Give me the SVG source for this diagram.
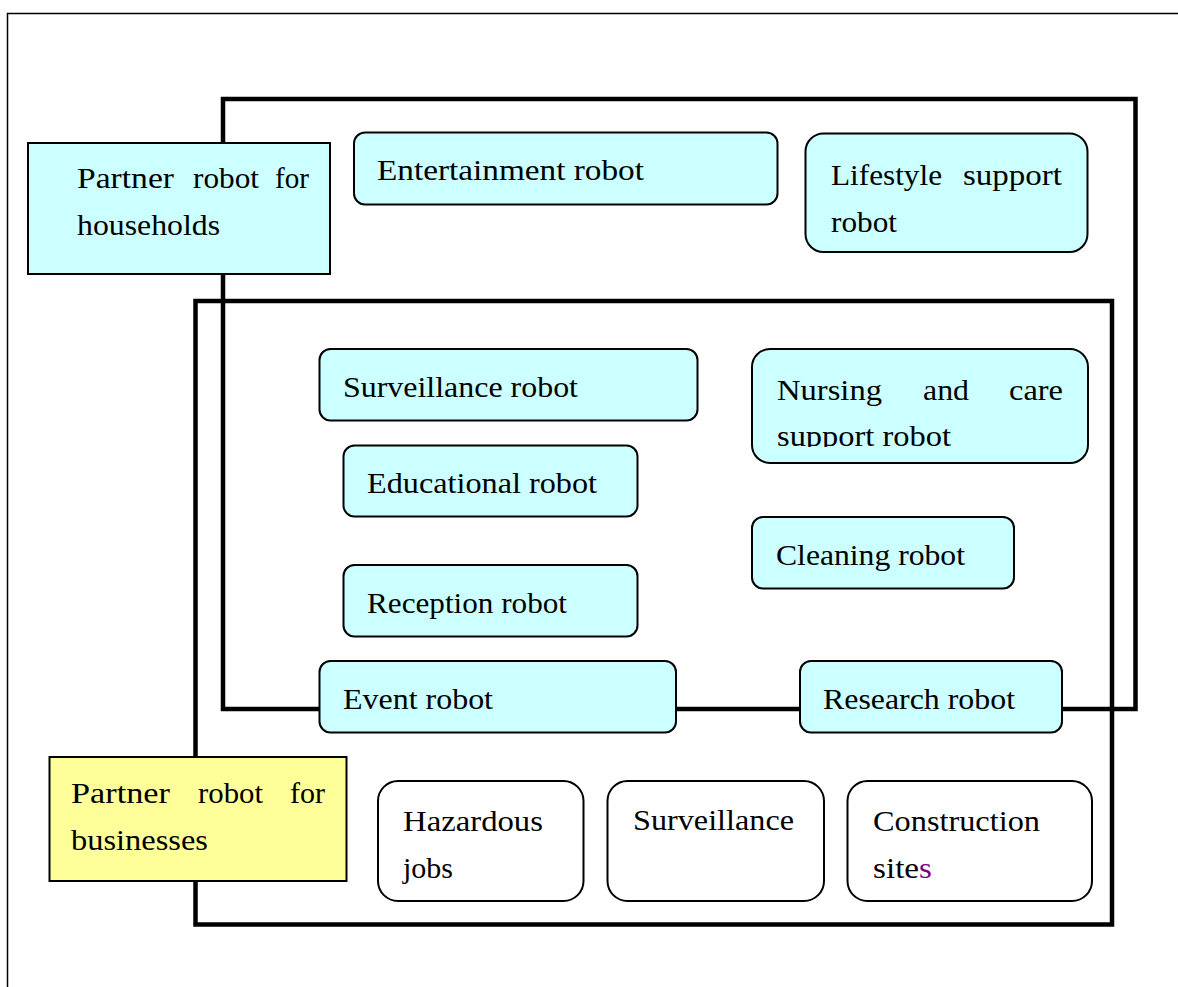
<svg xmlns="http://www.w3.org/2000/svg" width="1178" height="987" viewBox="0 0 1178 987">
<style>
.frame{fill:none;stroke:#000;stroke-width:4.5}
.box{fill:#CCFFFF;stroke:#000;stroke-width:2}
.wbox{fill:#FFFFFF;stroke:#000;stroke-width:2}
.ybox{fill:#FFFF99;stroke:#000;stroke-width:2}
text{font-family:"Liberation Serif","Times New Roman",serif;font-size:29px;fill:#000}
</style>
<defs>
<clipPath id="nclip"><rect x="752" y="349" width="336" height="98"/></clipPath>
</defs>
<rect x="0" y="0" width="1178" height="987" fill="#FFFFFF"/>
<g id="outer-frame"><path d="M7.5,987 V13.5 H1180" fill="none" stroke="#000" stroke-width="1.5"/></g>
<g id="connectors">
<rect id="household-area" class="frame" x="223" y="99" width="912.5" height="610"/>
<rect id="business-area" class="frame" x="195.5" y="301" width="916.5" height="623.5"/>
</g>
<g id="households">
<rect class="box" x="28" y="143" width="302" height="131"/>
<text x="77" y="188" textLength="97" lengthAdjust="spacingAndGlyphs">Partner</text>
<text x="193" y="188" textLength="66" lengthAdjust="spacingAndGlyphs">robot</text>
<text x="275" y="188" textLength="34" lengthAdjust="spacingAndGlyphs">for</text>
<text x="77" y="235" textLength="143" lengthAdjust="spacingAndGlyphs">households</text>
</g>
<g id="entertainment">
<rect class="box" x="354" y="132.5" width="423.5" height="72" rx="11"/>
<text x="377" y="180" textLength="267" lengthAdjust="spacingAndGlyphs">Entertainment robot</text>
</g>
<g id="lifestyle">
<rect class="box" x="805.5" y="133.5" width="282" height="118.5" rx="18"/>
<text x="831" y="185" textLength="111" lengthAdjust="spacingAndGlyphs">Lifestyle</text>
<text x="963" y="185" textLength="99" lengthAdjust="spacingAndGlyphs">support</text>
<text x="831" y="232" textLength="66" lengthAdjust="spacingAndGlyphs">robot</text>
</g>
<g id="surveillance-robot">
<rect class="box" x="319.5" y="349" width="378" height="71.5" rx="11"/>
<text x="343" y="397" textLength="235" lengthAdjust="spacingAndGlyphs">Surveillance robot</text>
</g>
<g id="nursing">
<rect class="box" x="752" y="349" width="336" height="114" rx="18"/>
<g clip-path="url(#nclip)">
<text x="777" y="400" textLength="105" lengthAdjust="spacingAndGlyphs">Nursing</text>
<text x="923" y="400" textLength="46" lengthAdjust="spacingAndGlyphs">and</text>
<text x="1009" y="400" textLength="54" lengthAdjust="spacingAndGlyphs">care</text>
<text x="777" y="446" textLength="174" lengthAdjust="spacingAndGlyphs">support robot</text>
</g>
</g>
<g id="educational">
<rect class="box" x="343.5" y="445.5" width="294" height="71" rx="11"/>
<text x="367" y="493" textLength="230" lengthAdjust="spacingAndGlyphs">Educational robot</text>
</g>
<g id="cleaning">
<rect class="box" x="752" y="517" width="262" height="71.5" rx="11"/>
<text x="776" y="565" textLength="189" lengthAdjust="spacingAndGlyphs">Cleaning robot</text>
</g>
<g id="reception">
<rect class="box" x="343.5" y="565" width="294" height="71.5" rx="11"/>
<text x="367" y="613" textLength="200" lengthAdjust="spacingAndGlyphs">Reception robot</text>
</g>
<g id="event">
<rect class="box" x="319.5" y="661" width="356.5" height="71.5" rx="11"/>
<text x="343" y="709" textLength="150" lengthAdjust="spacingAndGlyphs">Event robot</text>
</g>
<g id="research">
<rect class="box" x="800" y="661" width="262" height="71.5" rx="11"/>
<text x="823" y="709" textLength="192" lengthAdjust="spacingAndGlyphs">Research robot</text>
</g>
<g id="businesses">
<rect class="ybox" x="49.5" y="757" width="297" height="124"/>
<text x="71" y="803" textLength="99" lengthAdjust="spacingAndGlyphs">Partner</text>
<text x="198" y="803" textLength="65" lengthAdjust="spacingAndGlyphs">robot</text>
<text x="290" y="803" textLength="35" lengthAdjust="spacingAndGlyphs">for</text>
<text x="71" y="850" textLength="137" lengthAdjust="spacingAndGlyphs">businesses</text>
</g>
<g id="hazardous">
<rect class="wbox" x="378" y="781" width="205.5" height="120" rx="20"/>
<text x="403" y="831" textLength="140" lengthAdjust="spacingAndGlyphs">Hazardous</text>
<text x="403" y="878" textLength="50" lengthAdjust="spacingAndGlyphs">jobs</text>
</g>
<g id="surveillance">
<rect class="wbox" x="607.5" y="781" width="216.5" height="120" rx="20"/>
<text x="633" y="830" textLength="161" lengthAdjust="spacingAndGlyphs">Surveillance</text>
</g>
<g id="construction">
<rect class="wbox" x="847.5" y="781" width="244.5" height="120" rx="20"/>
<text x="873" y="831" textLength="167" lengthAdjust="spacingAndGlyphs">Construction</text>
<text x="873" y="878" textLength="59" lengthAdjust="spacingAndGlyphs">site<tspan fill="#800080">s</tspan></text>
</g>
</svg>
